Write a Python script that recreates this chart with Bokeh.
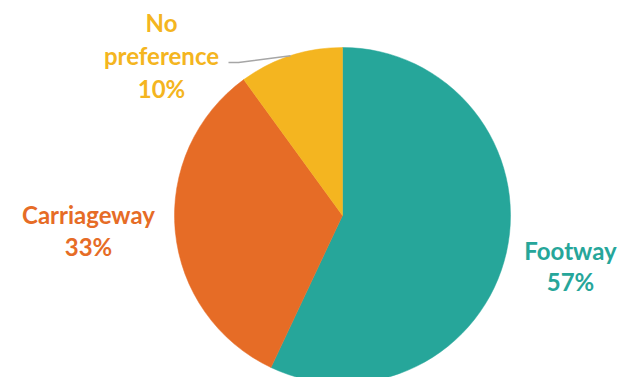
import math
from bokeh.plotting import figure
from bokeh.models import ColumnDataSource
from bokeh.core.properties import value
from bokeh.embed import file_html
from bokeh.resources import INLINE

categories = ["Footway", "Carriageway", "No preference"]
shares = [57, 33, 10]
colors = ["#26A69A", "#E66C26", "#F4B520"]
label_lines = [["Footway", "57%"], ["Carriageway", "33%"], ["No", "preference", "10%"]]

W, H = 619, 377
p = figure(width=W, height=H, x_range=(0, W), y_range=(0, H),
           output_backend="svg", toolbar_location=None, min_border=0)
p.axis.visible = False
p.grid.visible = False
p.outline_line_color = None
p.background_fill_color = "white"
p.border_fill_color = "white"

cx, cy, r = 342, H - 215, 168
total = sum(shares)
starts, ends = [], []
a = math.pi / 2
for s in shares:
    starts.append(a)
    a = a - s / total * 2 * math.pi
    ends.append(a)

src = ColumnDataSource(dict(start=starts, end=ends, color=colors))
p.wedge(x=cx, y=cy, radius=r, start_angle="start", end_angle="end",
        direction="clock", fill_color="color", line_color="color", line_width=0.5,
        source=src)

# label anchors (centre x, first-line y in screen px)
anchors = [(570, 250), (88, 214), (161, 22)]
spacing = [31, 32, 33]
for lines, (lx, ly), sp, col in zip(label_lines, anchors, spacing, colors):
    ys = [H - (ly + i * sp) for i in range(len(lines))]
    p.text(x=[lx] * len(lines), y=ys, text=lines, text_color=col,
           text_font=value("Lato"), text_font_style="bold", text_font_size="24px",
           text_align="center", text_baseline="middle")

# leader line for "No preference"
mid = (starts[2] + ends[2]) / 2
ex, ey = cx + r * math.cos(mid), cy + r * math.sin(mid)
p.line(x=[228, 238, ex], y=[H - 62, H - 62, ey], line_color="#A6A6A6", line_width=1.5)

open("out.html", "w").write(file_html(p, INLINE))
